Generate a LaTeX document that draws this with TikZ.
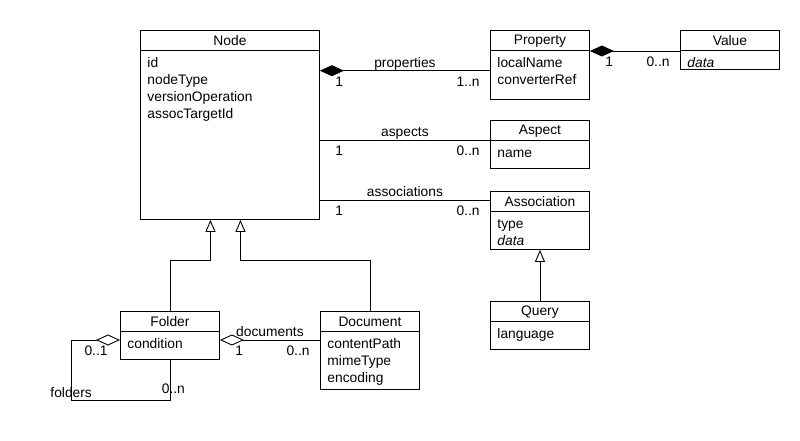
\documentclass[tikz,border=0pt]{standalone}
\usepackage{fontspec}
\setmainfont{Liberation Sans}
\usetikzlibrary{arrows.meta,positioning,calc}

% class box: name, x, y, width, height, title, attributes
\newcommand{\umlclass}[7]{%
  \node[cls,minimum width=#4,minimum height=#5] (#1) at (#2,#3) {};
  \draw ([yshift=-20.5pt]#1.north west) -- ([yshift=-20.5pt]#1.north east);
  \node[txt] (#1-title) at ([yshift=-11pt]#1.north) {#6};
  \foreach \a [count=\i] in {#7}
    \node[txt,anchor=base west] (#1-a\i) at ([shift={(7pt,{-20.5pt-17pt*\i})}]#1.north west) {\a};
}

\begin{document}
\begin{tikzpicture}[x=1pt,y=-1pt,line width=0.9pt,
      cls/.style={draw,fill=white,anchor=north west,inner sep=0pt},
      txt/.style={inner sep=0pt,font=\fontsize{13.8}{16}\selectfont},
      comp/.style={{Diamond[length=24pt,width=11pt]}-},
      aggr/.style={{Diamond[open,length=24pt,width=11pt]}-},
      gen/.style={-{Triangle[open,length=12pt,width=10pt]}},
      mlo/.style={txt,anchor=base west,xshift=15pt,yshift=-15.5pt},
      mhi/.style={txt,anchor=base east,xshift=-10pt,yshift=-15.5pt},
      rlab/.style={txt,anchor=base,yshift=3.5pt}]
    \useasboundingbox (0,0) rectangle (800,440);
    \umlclass{node}{140}{30}{179}{189}{Node}{id,nodeType,versionOperation,assocTargetId}
    \umlclass{prop}{490}{30}{99}{69}{Property}{localName,converterRef}
    \umlclass{value}{680}{30}{99}{39}{Value}{\textit{data}}
    \umlclass{aspect}{490}{120}{99}{48}{Aspect}{name}
    \umlclass{assoc}{490}{191}{99}{58}{Association}{type,\textit{data}}
    \umlclass{query}{490}{301}{99}{48}{Query}{language}
    \umlclass{folder}{120}{311}{99}{48}{Folder}{condition}
    \umlclass{doc}{320}{311}{99}{78}{Document}{contentPath,mimeType,encoding}
    % associations
    \draw[comp] ([yshift=-40.7pt]node.north east) -- node[pos=0,mlo]{1} node[pos=1,mhi]{1..n}
      node[midway,rlab]{properties} ([yshift=-40.7pt]prop.north west);
    \draw[comp] ([yshift=-21pt]prop.north east) -- node[pos=0,mlo]{1} node[pos=1,mhi]{0..n}
      ([yshift=-21pt]value.north west);
    \draw ([yshift=-110pt]node.north east) -- node[pos=0,mlo]{1} node[pos=1,mhi]{0..n}
      node[midway,rlab]{aspects} ([yshift=-20pt]aspect.north west);
    \draw ([yshift=-170pt]node.north east) -- node[pos=0,mlo]{1} node[pos=1,mhi]{0..n}
      node[midway,rlab]{associations} ([yshift=-9pt]assoc.north west);
    \draw[aggr] ([yshift=-29pt]folder.north east) -- node[pos=0,mlo]{1} node[pos=1,mhi]{0..n}
      node[midway,rlab]{documents} ([yshift=-29pt]doc.north west);
    \draw[aggr] ([yshift=-29pt]folder.north west) -- ++(-49pt,0) |- ([yshift=-41pt]folder.south)
      -- (folder.south);
    \node[txt,anchor=base east] (m-f1) at ([shift={(-12pt,-44pt)}]folder.north west) {0..1};
    \node[txt,anchor=base west] (m-f2) at ([shift={(-8.5pt,-34pt)}]folder.south) {0..n};
    \node[txt,anchor=base west] (l-folders) at ([shift={(-70pt,-38pt)}]folder.south west) {folders};
    % generalisations
    \draw[gen] (query.north) -- (assoc.south);
    \draw[gen] (folder.north) |- ([xshift=-19.5pt,yshift=-41pt]node.south) -- ([xshift=-19.5pt]node.south);
    \draw[gen] (doc.north) |- ([xshift=10.5pt,yshift=-41pt]node.south) -- ([xshift=10.5pt]node.south);
  \end{tikzpicture}
\end{document}
